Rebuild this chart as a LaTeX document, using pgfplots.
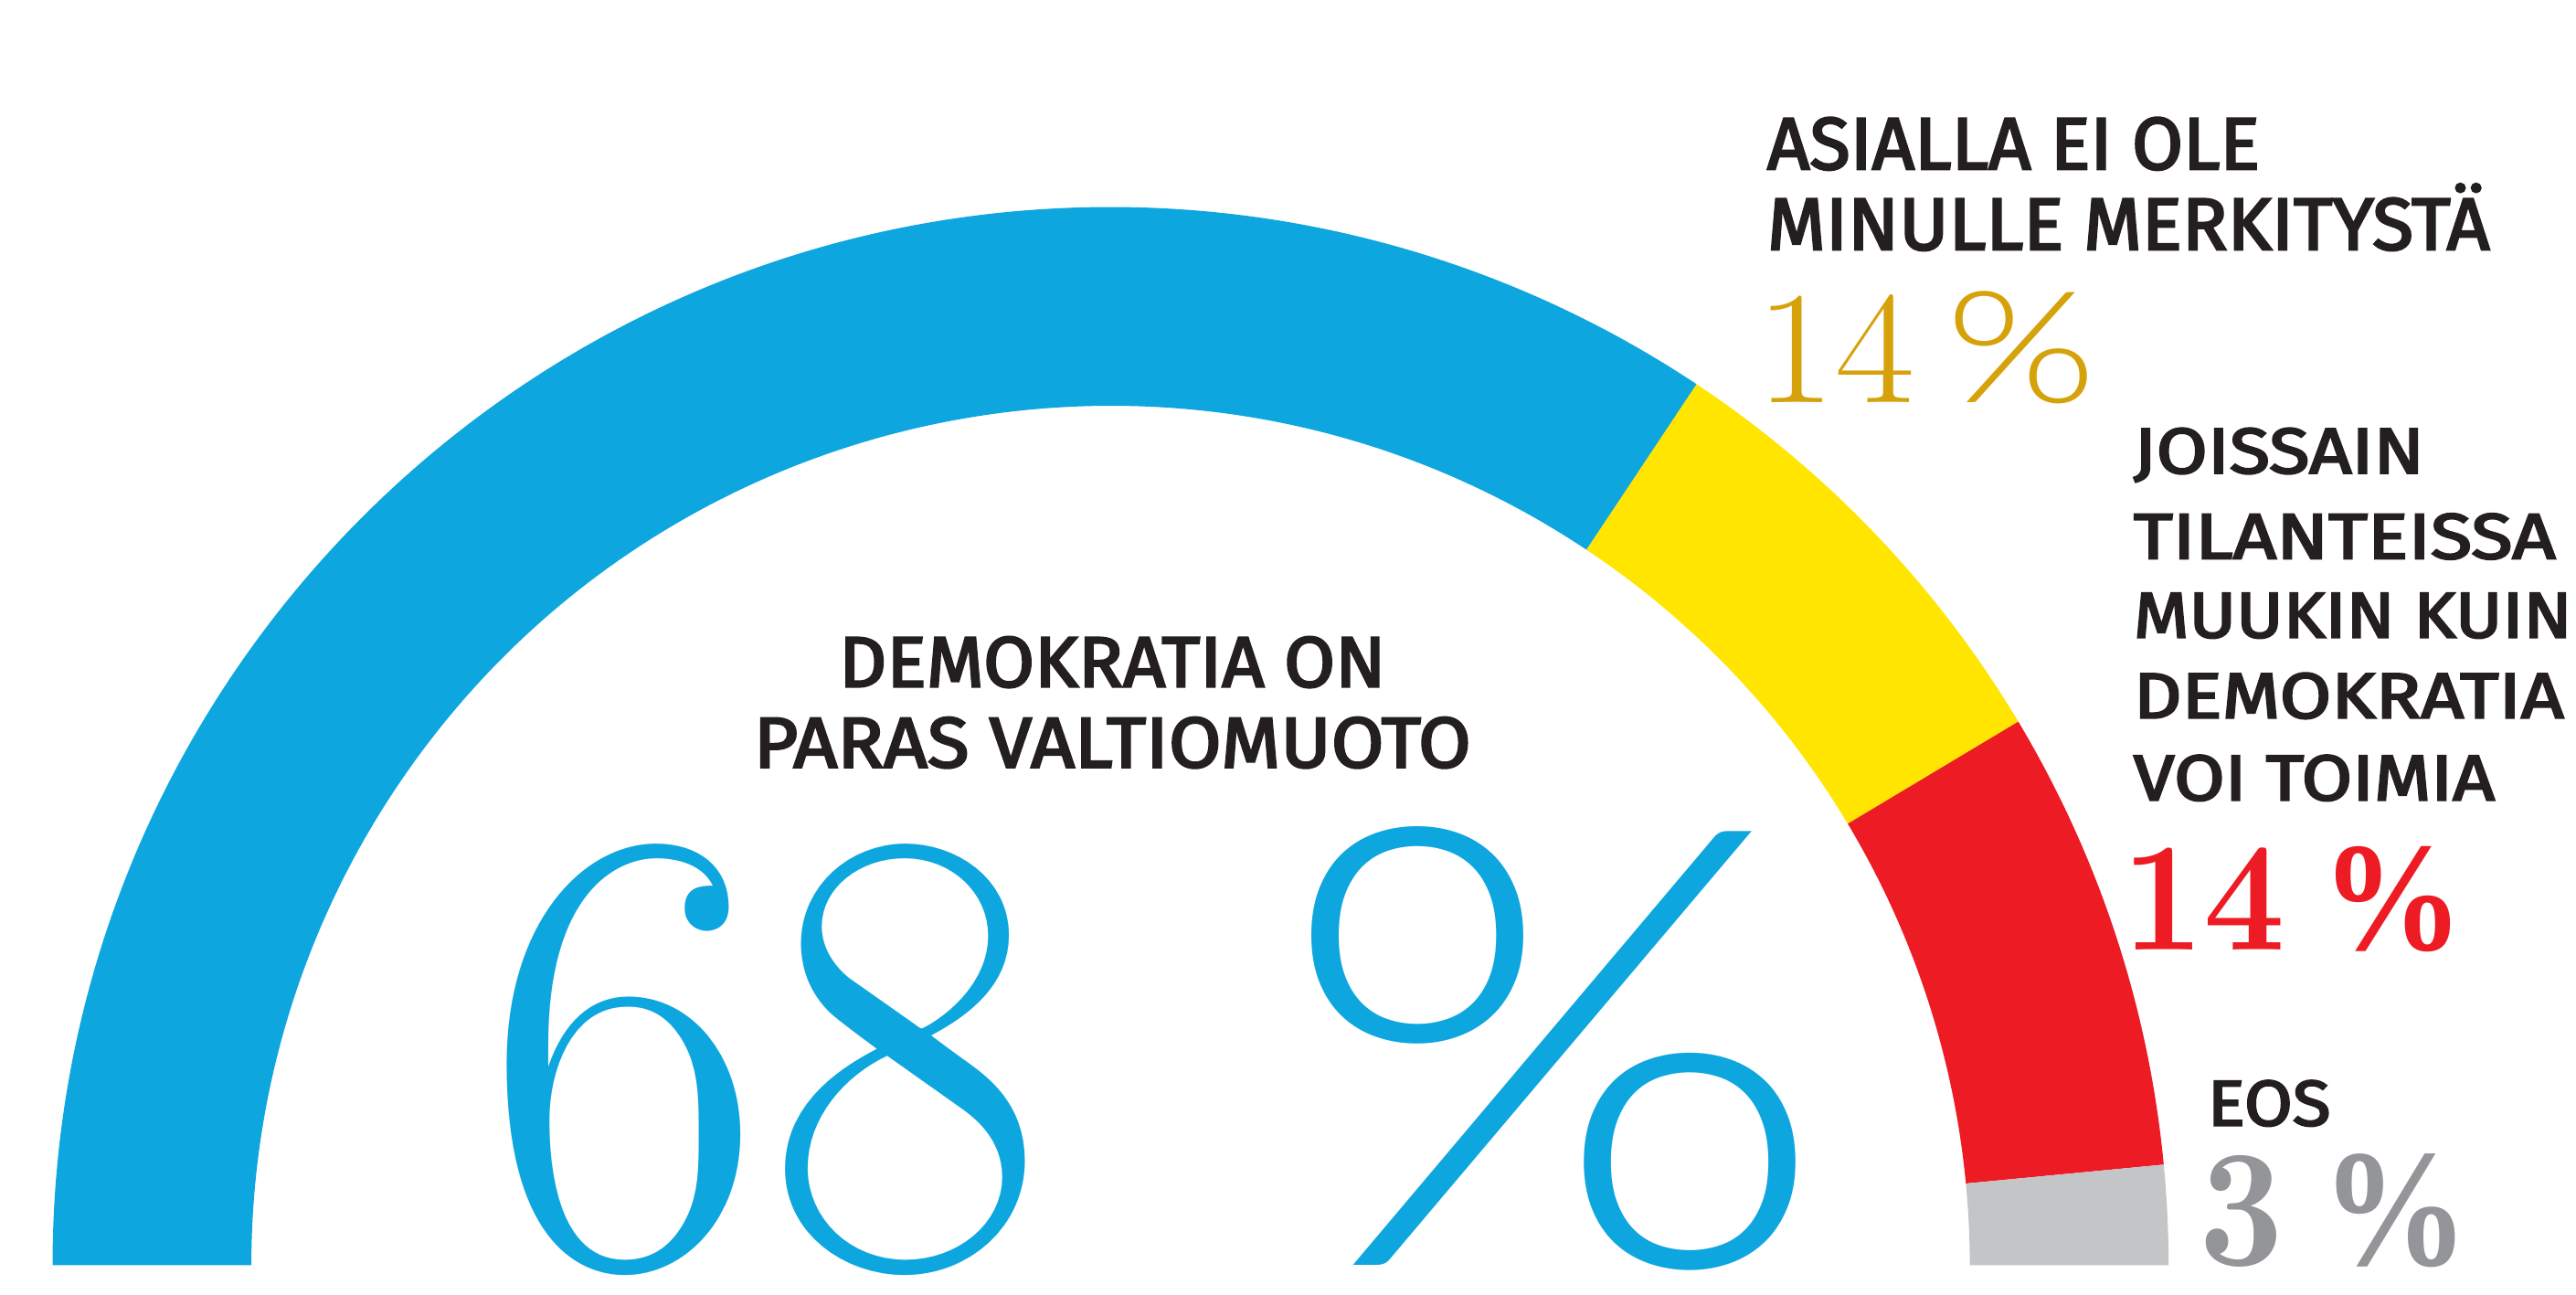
\documentclass[border=0pt]{standalone}
\usepackage{fontspec}
\usepackage{graphicx}
\usepackage{pgfplots}
\pgfplotsset{compat=1.18}
\usepackage{pgfplotstable}
\usetikzlibrary{calc}
\newfontfamily\lab[FakeBold=3]{Fira Sans}
\newfontfamily\num{Latin Modern Roman}
\newfontfamily\numl{lmroman17-regular.otf}
\newfontfamily\pctb{Liberation Serif}
\IfFontExistsTF{Lato Light}{\newfontfamily\pct{Lato Light}}{%
  \IfFontExistsTF{Lato}{\newfontfamily\pct{Lato}}{\newfontfamily\pct{Liberation Serif}}}
\definecolor{cblue}{HTML}{0EA6DF}
\definecolor{cyellow}{HTML}{FFE500}
\definecolor{cred}{HTML}{ED1C24}
\definecolor{cgray}{HTML}{C4C5C7}
\definecolor{tgold}{HTML}{D6A20C}
\definecolor{tgray}{HTML}{939598}
\definecolor{tblack}{HTML}{231F20}
\newdimen\U \U=0.01cm
% fit a line of text to a given width and cap height (in picture units)
\newcommand\fit[5]{\resizebox{#2\U}{#3\U}{#1\rule{0pt}{\fontcharht\font`#4}\smash{#5}}}
\pgfplotstableread{
label value
Demokratia 68
Asialla 14
Joissain 14
EOS 3
}\gauge
\begin{document}
\begin{tikzpicture}
\pgfplotstablegetelem{0}{value}\of\gauge\pgfmathsetmacro\vA{\pgfplotsretval}
\pgfplotstablegetelem{1}{value}\of\gauge\pgfmathsetmacro\vB{\pgfplotsretval}
\pgfplotstablegetelem{2}{value}\of\gauge\pgfmathsetmacro\vC{\pgfplotsretval}
\pgfplotstablegetelem{3}{value}\of\gauge\pgfmathsetmacro\vD{\pgfplotsretval}
\pgfmathsetmacro\tot{\vA+\vB+\vC+\vD}
\pgfmathsetmacro\aZero{180}
\pgfmathsetmacro\aOne{180-180*\vA/\tot}
\pgfmathsetmacro\aTwo{\aOne-180*\vB/\tot}
\pgfmathsetmacro\aThree{\aTwo-180*\vC/\tot}
\pgfmathsetmacro\aFour{\aThree-180*\vD/\tot}
\begin{axis}[
  scale only axis, width=15.68cm, height=7.88cm,
  xmin=0, xmax=1568, ymin=0, ymax=788, y dir=reverse,
  hide axis, clip=false]
\newcommand\seg[3]{%
  \fill[#1] ($(axis cs:676,770)+(#2:6.44cm)$) arc[start angle=#2, end angle=#3, radius=6.44cm]
    -- ($(axis cs:676,770)+(#3:5.23cm)$) arc[start angle=#3, end angle=#2, radius=5.23cm] -- cycle;}
\seg{cblue}{\aZero}{\aOne}
\seg{cyellow}{\aOne}{\aTwo}
\seg{cred}{\aTwo}{\aThree}
\seg{cgray}{\aThree}{\aFour}
\path (axis cs:0,0) rectangle (axis cs:1568,788);
% labels
\begin{scope}[every node/.style={anchor=base west, inner sep=0pt, text=tblack}]
\node at (axis cs:1075,103) {\fit{\lab}{300}{31}{H}{ASIALLA EI OLE}};
\node at (axis cs:1075,152) {\fit{\lab}{440}{31}{H}{MINULLE MERKITYSTÄ}};
\node[text=tgold] at (axis cs:1068,245) {\fit{\numl}{97}{67}{1}{14}};
\node[text=tgold] at (axis cs:1184,245) {\fit{\pct}{92}{67}{\%}{\%}};
\node at (axis cs:1298,288) {\fit{\lab}{177}{27}{H}{JOISSAIN}};
\node at (axis cs:1298,340) {\fit{\lab}{257}{27}{H}{TILANTEISSA}};
\node at (axis cs:1298,388) {\fit{\lab}{267}{27}{H}{MUUKIN KUIN}};
\node at (axis cs:1298,437) {\fit{\lab}{262}{27}{H}{DEMOKRATIA}};
\node at (axis cs:1298,487) {\fit{\lab}{220}{27}{H}{VOI TOIMIA}};
\node[text=cred] at (axis cs:1291,578) {\fit{\num\bfseries}{208}{65}{1}{14\hspace{0.25em}{\pctb\bfseries\%}}};
\node at (axis cs:1343,685) {\fit{\lab}{75}{27}{H}{EOS}};
\node[text=tgray] at (axis cs:1338,770) {\fit{\num\bfseries}{164}{70}{3}{3\hspace{0.25em}{\pctb\bfseries\%}}};
\node at (axis cs:510,418) {\fit{\lab}{333}{30}{H}{DEMOKRATIA ON}};
\node at (axis cs:458,467) {\fit{\lab}{437}{30}{H}{PARAS VALTIOMUOTO}};
\node[text=cblue] at (axis cs:294,770) {\fit{\numl}{342}{265}{6}{68}};
\node[text=cblue] at (axis cs:776,770) {\fit{\pct}{338}{264}{\%}{\%}};
\end{scope}
\end{axis}
\end{tikzpicture}
\end{document}
